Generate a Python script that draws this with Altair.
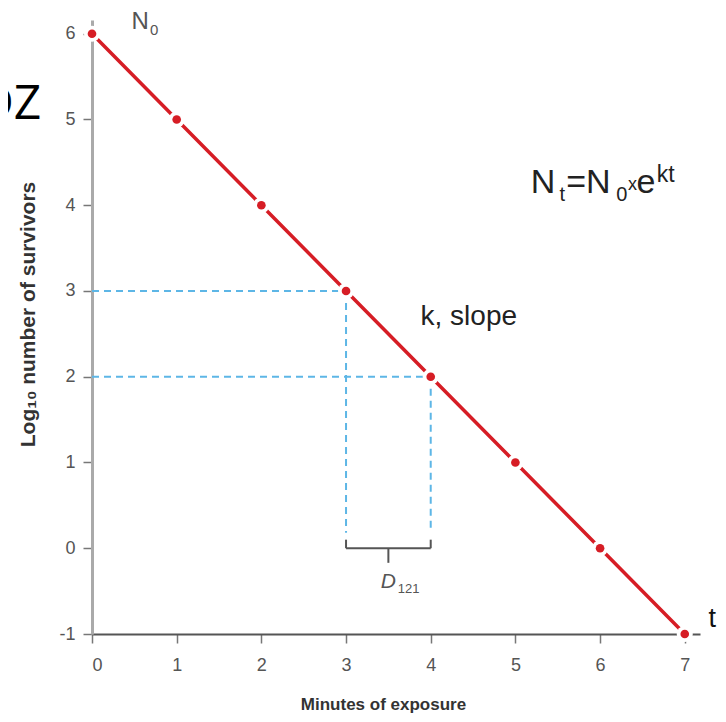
import altair as alt
import pandas as pd

# ---- data ----
minutes = [0, 1, 2, 3, 4, 5, 6, 7]
log_survivors = [6, 5, 4, 3, 2, 1, 0, -1]

# dashed guide lines (horizontal: y, from x0 to x1; vertical: x, from y0 to y1)
h_guide_y = [3, 2]
h_guide_x0 = [0, 0]
h_guide_x1 = [3, 4]
v_guide_x = [3, 4]
v_guide_y0 = [3, 2]
v_guide_y1 = [0.18, 0.18]

# D-value bracket
bracket_x0, bracket_x1 = 3, 4
bracket_top, bracket_y, bracket_tick = 0.10, 0.0, -0.17

FONT = "Liberation Sans"
RED = "#d61d25"
BLUE = "#5db6e6"

pts = pd.DataFrame({"x": minutes, "y": log_survivors})

xscale = alt.Scale(domain=[0, 7.18], nice=False, zero=False)
yscale = alt.Scale(domain=[-1, 6.16], nice=False, zero=False)

xax = alt.Axis(values=minutes, labelExpr="'' + datum.value", grid=False,
               domainColor="#555555", domainWidth=2,
               tickColor="#777777", tickWidth=1.5, tickSize=9,
               labelFont=FONT, labelFontSize=18, labelColor="#555555", labelPadding=13,
               title="Minutes of exposure", titleFont=FONT, titleFontSize=17,
               titleFontWeight="bold", titleColor="#333333",
               titleX=291, titleY=70, titleBaseline="middle", titleAlign="center")
yax = alt.Axis(values=log_survivors, labelExpr="'' + datum.value", grid=False,
               domainColor="#aaaaaa", domainWidth=3,
               tickColor="#777777", tickWidth=1.5, tickSize=9,
               labelFont=FONT, labelFontSize=18, labelColor="#555555", labelPadding=8,
               title="Log₁₀ number of survivors", titleFont=FONT, titleFontSize=21,
               titleFontWeight="bold", titleColor="#333333", titleAngle=270,
               titleX=-64, titleY=294, titleBaseline="middle", titleAlign="center")

base = alt.Chart(pts)

line = base.mark_line(color=RED, strokeWidth=3.5).encode(
    x=alt.X("x:Q", scale=xscale, axis=xax),
    y=alt.Y("y:Q", scale=yscale, axis=yax),
)

hg = alt.Chart(pd.DataFrame({"y": h_guide_y, "x0": h_guide_x0, "x1": h_guide_x1})).mark_rule(
    color=BLUE, strokeWidth=2, strokeDash=[7, 5]
).encode(x=alt.X("x0:Q", scale=xscale), x2="x1:Q", y=alt.Y("y:Q", scale=yscale))

vg = alt.Chart(pd.DataFrame({"x": v_guide_x, "y0": v_guide_y0, "y1": v_guide_y1})).mark_rule(
    color=BLUE, strokeWidth=2, strokeDash=[7, 5]
).encode(x=alt.X("x:Q", scale=xscale), y=alt.Y("y0:Q", scale=yscale), y2="y1:Q")

halo = base.mark_point(filled=True, color="white", opacity=1, size=260).encode(
    x=alt.X("x:Q", scale=xscale), y=alt.Y("y:Q", scale=yscale))
dots = base.mark_point(filled=True, color=RED, opacity=1, size=75).encode(
    x=alt.X("x:Q", scale=xscale), y=alt.Y("y:Q", scale=yscale))

# bracket
br_v = alt.Chart(pd.DataFrame({"x": [bracket_x0, bracket_x1],
                               "y0": [bracket_top, bracket_top],
                               "y1": [bracket_y, bracket_y]})).mark_rule(
    color="#555555", strokeWidth=2).encode(
    x=alt.X("x:Q", scale=xscale), y=alt.Y("y0:Q", scale=yscale), y2="y1:Q")
br_h = alt.Chart(pd.DataFrame({"x0": [bracket_x0], "x1": [bracket_x1], "y": [bracket_y]})).mark_rule(
    color="#555555", strokeWidth=2).encode(
    x=alt.X("x0:Q", scale=xscale), x2="x1:Q", y=alt.Y("y:Q", scale=yscale))
br_t = alt.Chart(pd.DataFrame({"x": [(bracket_x0 + bracket_x1) / 2], "y0": [bracket_y],
                               "y1": [bracket_tick]})).mark_rule(
    color="#555555", strokeWidth=2).encode(
    x=alt.X("x:Q", scale=xscale), y=alt.Y("y0:Q", scale=yscale), y2="y1:Q")

# annotations: text, x, y (data units), size, colour, style
ann_text = ["N", "0", "N", "t", "=N", "0", "x", "e", "kt", "k, slope", "t", "D", "121", "DZ"]
ann_x = [0.465, 0.685, 5.18, 5.52, 5.60, 6.19, 6.33, 6.43, 6.67, 3.88, 7.28, 3.41, 3.61, -0.60]
ann_y = [6.06, 5.98, 4.146, 4.05, 4.146, 4.05, 4.18, 4.146, 4.27, 2.606, -0.915, -0.46, -0.52, 5.0]
ann_size = [24, 15, 34, 20, 34, 20, 18, 34, 23, 28, 27, 21, 13, 48]
ann_color = ["#555555", "#555555", "#222222", "#222222", "#222222", "#222222", "#222222",
             "#222222", "#222222", "#222222", "#111111", "#555555", "#555555", "#000000"]
ann_style = ["normal"] * 11 + ["italic", "normal", "normal"]
ann_align = ["left"] * 13 + ["right"]

ann = pd.DataFrame({"t": ann_text, "x": ann_x, "y": ann_y, "s": ann_size,
                    "c": ann_color, "st": ann_style, "al": ann_align})

texts = []
for i, row in ann.iterrows():
    font = "Open Sans" if row["t"] == "DZ" else FONT
    texts.append(
        alt.Chart(ann.iloc[[i]]).mark_text(
            font=font, fontSize=int(row["s"]), color=row["c"], fontStyle=row["st"],
            align=row["al"], baseline="alphabetic"
        ).encode(x=alt.X("x:Q", scale=xscale), y=alt.Y("y:Q", scale=yscale), text="t:N")
    )

chart = alt.layer(hg, vg, line, halo, dots, br_v, br_h, br_t, *texts).properties(
    width=608, height=614,
    autosize=alt.AutoSizeParams(type="none"),
    padding={"left": 84, "top": 12, "right": 18, "bottom": 80},
    background="white",
).configure_view(stroke=None)

chart.save("out.html", embed_options={"renderer": "svg", "actions": False})
